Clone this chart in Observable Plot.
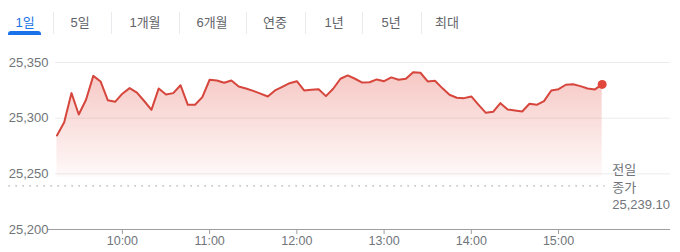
<!DOCTYPE html>
<html><head><meta charset="utf-8">
<script src="https://cdn.jsdelivr.net/npm/d3@7"></script>
<script src="https://cdn.jsdelivr.net/npm/@observablehq/plot@0.6"></script>
<style>
html,body{margin:0;padding:0;background:#fff;font-family:Arial,"Liberation Sans","Noto Sans CJK KR",sans-serif;}
#tabs{position:relative;height:44px;width:680px;overflow:hidden;}
.tab{position:absolute;top:14px;transform:translateX(-50%);font-size:13px;color:#5f6368;white-space:nowrap;line-height:18px;}
.tab.sel{color:#1a73e8;}
.sep{position:absolute;top:12px;width:1px;height:22px;background:#e8eaed;}
.ul{position:absolute;left:8px;top:31px;width:33px;height:4px;border-radius:3px 3px 0 0;background:#1a73e8;}
#chart svg{display:block;}
</style></head><body>
<div id="tabs"></div>
<div id="chart"></div>
<script>
// ---- data ----
const tabs = ["1일","5일","1개월","6개월","연중","1년","5년","최대"];
const times = [
 "09:15","09:20","09:25","09:30","09:35","09:40","09:45","09:50","09:55",
 "10:00","10:05","10:10","10:15","10:20","10:25","10:30","10:35","10:40","10:45","10:50","10:55",
 "11:00","11:05","11:10","11:15","11:20","11:25","11:30","11:35","11:40","11:45","11:50","11:55",
 "12:00","12:05","12:10","12:15","12:20","12:25","12:30","12:35","12:40","12:45","12:50","12:55",
 "13:00","13:05","13:10","13:15","13:20","13:25","13:30","13:35","13:40","13:45","13:50","13:55",
 "14:00","14:05","14:10","14:15","14:20","14:25","14:30","14:35","14:40","14:45","14:50","14:55",
 "15:00","15:05","15:10","15:15","15:20","15:25","15:30"
];
const values = [
 25284.5,25296.4,25322.5,25303.3,25316.5,25338.0,25333.0,25316.0,25314.7,
 25322.0,25327.0,25323.0,25315.4,25307.5,25326.7,25321.3,25322.5,25329.6,25312.0,25312.0,25318.9,
 25334.5,25333.9,25331.8,25333.9,25328.5,25326.7,25324.5,25322.0,25319.5,25324.9,25328.2,25331.4,
 25333.2,25324.9,25325.5,25326.0,25319.8,25326.4,25335.4,25338.4,25335.4,25332.0,25332.3,25334.8,
 25333.2,25336.6,25334.5,25335.4,25341.3,25340.8,25333.0,25333.6,25327.0,25321.0,25318.3,25318.0,
 25319.5,25312.0,25304.8,25305.7,25313.5,25307.8,25306.9,25306.0,25312.9,25312.0,25315.3,25324.9,
 25326.0,25330.0,25330.5,25328.8,25326.7,25325.8,25330.3
];
const prevClose = 25239.10;
const prevCloseLabel = ["전일", "종가"];
const yTicks = [25200, 25250, 25300, 25350];
const xTickLabels = ["10:00","11:00","12:00","13:00","14:00","15:00"];

// ---- tabs layout ----
const tabCenters = [25, 80, 145, 212, 275, 334, 391, 447];
const sepX = [53, 111, 179, 246, 305, 362, 421];
const tabsEl = document.getElementById("tabs");
tabs.forEach((t, i) => {
  const d = document.createElement("div");
  d.className = "tab" + (i === 0 ? " sel" : "");
  d.style.left = tabCenters[i] + "px";
  d.textContent = t;
  tabsEl.appendChild(d);
});
sepX.forEach(x => {
  const s = document.createElement("div");
  s.className = "sep"; s.style.left = x + "px";
  tabsEl.appendChild(s);
});
const ul = document.createElement("div"); ul.className = "ul"; tabsEl.appendChild(ul);

// ---- chart ----
const parse = t => { const [h, m] = t.split(":").map(Number); return new Date(2024, 0, 1, h, m); };
const data = times.map((t, i) => ({t: parse(t), v: values[i]}));
const last = data[data.length - 1];
const labelText = prevCloseLabel.join("\n") + "\n" + d3.format(",.2f")(prevClose);
const xDomain = [parse("09:14"), parse("16:17")];

const plot = Plot.plot({
  width: 680, height: 208,
  marginLeft: 55, marginRight: 10, marginTop: 18, marginBottom: 23,
  style: {fontFamily: "Arial, 'Liberation Sans', 'Noto Sans CJK KR', sans-serif", fontSize: "12.5px", color: "#70757a", background: "#fff", overflow: "visible"},
  x: {type: "time", domain: xDomain, label: null},
  y: {domain: [25200, 25350], label: null},
  marks: [
    Plot.ruleY(yTicks.slice(1), {stroke: "#ececec", strokeWidth: 1}),
    Plot.areaY(data, {x: "t", y1: () => 25247, y2: "v", fill: "url(#fillGrad)"}),
    Plot.ruleY([prevClose], {x1: () => parse("08:42"), x2: () => parse("15:32"), stroke: "#9aa0a6", strokeWidth: 1.2, strokeDasharray: "1.3,5.7"}),
    Plot.lineY(data, {x: "t", y: "v", stroke: "#d6463c", strokeWidth: 2, strokeLinejoin: "round"}),
    Plot.dot([last], {x: "t", y: "v", r: 4.5, fill: "#e0463a", stroke: "none"}),
    Plot.ruleY([yTicks[0]], {x1: () => parse("09:09"), x2: () => xDomain[1], stroke: "#9e9e9e", strokeWidth: 1.2}),
    Plot.axisY(yTicks, {tickSize: 0, tickPadding: 7, fontSize: 13, tickFormat: d3.format(","), color: "#70757a", label: null}),
    Plot.axisX(xTickLabels.map(parse), {tickSize: 5, tickPadding: 2, fontSize: 12.5, tickFormat: d3.timeFormat("%H:%M"), stroke: "#9e9e9e", fill: "#70757a", label: null}),
    Plot.text([labelText], {x: () => last.t, y: () => prevClose, dx: 10, textAnchor: "start", lineHeight: 1.33, fontSize: 13, fill: "#70757a"})
  ]
});

const svg = d3.select(plot);
const grad = svg.insert("defs", ":first-child").append("linearGradient")
  .attr("id", "fillGrad").attr("x1", 0).attr("y1", 0).attr("x2", 0).attr("y2", 1);
grad.append("stop").attr("offset", "0%").attr("stop-color", "#e0463a").attr("stop-opacity", 0.3);
grad.append("stop").attr("offset", "100%").attr("stop-color", "#e0463a").attr("stop-opacity", 0.03);

document.getElementById("chart").appendChild(plot);
</script>
</body></html>
